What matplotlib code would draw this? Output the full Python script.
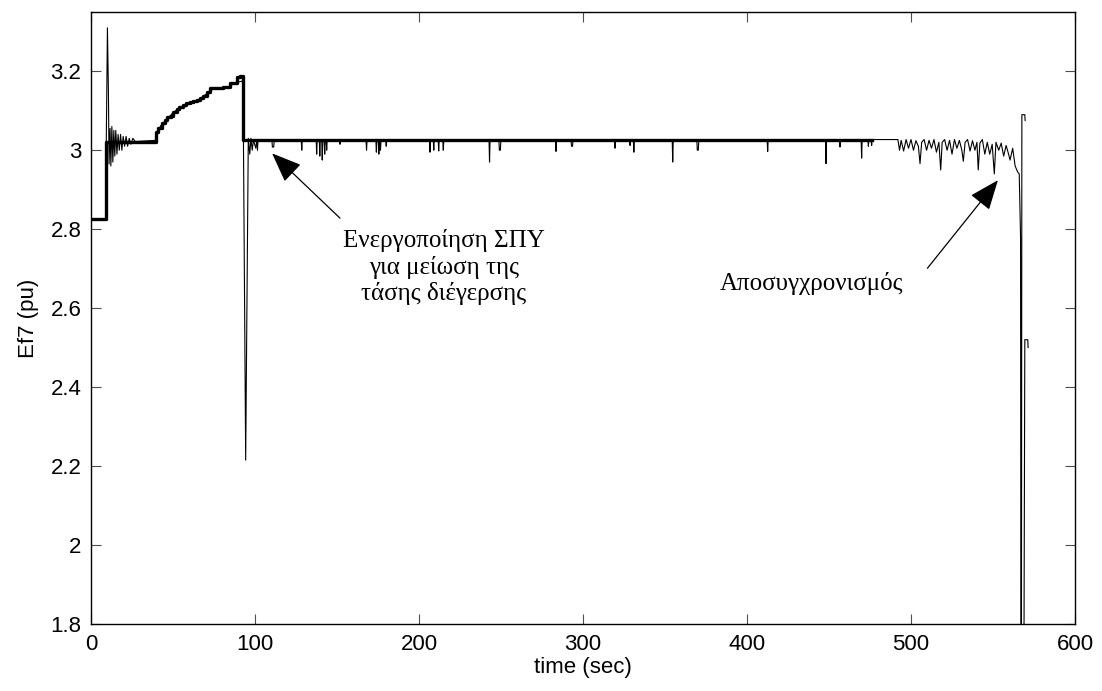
import matplotlib
matplotlib.use("Agg")
import matplotlib.pyplot as plt

plt.rcParams['font.family'] = ['Liberation Sans', 'DejaVu Sans']

# stepped excitation set-point (thick line), steps-post
ref_t = [0, 9.0, 39.6, 41.1, 43.1, 45.1, 46.5, 48.6, 50.2, 52.2, 53.9, 55.9,
         57.9, 60.4, 62.4, 64.8, 66.5, 68.5, 70.5, 72.6, 80.7, 84.8, 88.8,
         90.9, 92.5, 476.0]
ref_v = [2.825, 3.022, 3.046, 3.057, 3.069, 3.076, 3.083, 3.086, 3.097, 3.105,
         3.110, 3.115, 3.119, 3.122, 3.125, 3.127, 3.131, 3.137, 3.148, 3.158,
         3.160, 3.170, 3.186, 3.189, 3.025, 3.025]

# Ef7 response, start-up, ramp and the dip at ~94 s
start_t = [0, 9.0, 9.3, 10.0, 10.6, 11.0, 11.6, 12.1, 12.7, 13.3, 13.9, 14.5,
           15.1, 15.8, 16.5, 17.2, 18.0, 18.8, 19.6, 20.5, 21.4, 22.3, 23.3,
           24.3, 25.5, 27.0, 39.6, 40.5, 42.5, 46.5, 50.5, 54.5, 58.0, 62.5,
           66.5, 70.5, 73.0, 75.0, 80.5, 84.0, 85.5, 88.5, 92.5, 92.7, 94.3,
           95.9, 96.8, 97.5, 98.3, 99.0, 100.5, 101.0]
start_v = [2.825, 2.825, 3.02, 3.31, 3.15, 2.965, 3.055, 2.96, 3.06, 2.97,
           3.05, 2.985, 3.05, 2.99, 3.04, 3.0, 3.04, 3.0, 3.035, 3.01, 3.035,
           3.01, 3.03, 3.015, 3.03, 3.022, 3.025, 3.045, 3.062, 3.08, 3.097,
           3.108, 3.117, 3.124, 3.13, 3.143, 3.152, 3.155, 3.156, 3.158,
           3.165, 3.172, 3.175, 3.17, 2.215, 3.03, 2.99, 3.03, 3.0, 3.025,
           3.005, 3.025]

# flat section: short dips below the 3.025 level
mid_t = [101.0, 101.2, 101.5, 101.8, 110.3, 110.6, 111.4, 111.7, 128.2, 128.5,
         128.8, 137.3, 137.6, 137.9, 139.2, 139.5, 139.8, 140.7, 141.0, 141.3,
         142.2, 142.5, 142.8, 143.4, 143.7, 144.0, 151.5, 151.8, 152.1, 167.7,
         168.0, 168.3, 173.7, 174.0, 174.3, 175.2, 175.5, 175.8, 176.2, 176.5,
         176.8, 179.7, 180.0, 180.3, 206.4, 206.7, 207.0, 208.7, 209.0, 209.3,
         211.7, 212.0, 212.3, 214.5, 214.8, 215.1, 242.7, 243.0, 243.3, 248.7,
         249.0, 249.6, 249.9, 283.2, 283.5, 283.8, 292.7, 293.0, 293.6, 293.9,
         319.2, 319.5, 319.8, 328.4, 328.7, 329.0, 330.7, 331.0, 331.3, 354.4,
         354.7, 355.0, 369.4, 369.7, 370.3, 370.6, 412.3, 412.6, 412.9, 447.9,
         448.2, 448.5, 456.4, 456.7, 457.0, 469.6, 469.9, 470.2, 473.7, 474.0,
         474.3, 475.7, 476.0, 476.3]
mid_v = [3.025, 3.025, 3.0, 3.025, 3.025, 3.008, 3.008, 3.025, 3.025, 3.0,
         3.025, 3.025, 2.99, 3.025, 3.025, 2.985, 3.025, 3.025, 2.975, 3.025,
         3.025, 2.99, 3.025, 3.025, 3.0, 3.025, 3.025, 3.015, 3.025, 3.025,
         3.0, 3.025, 3.025, 2.995, 3.025, 3.025, 2.99, 3.025, 3.025, 3.0,
         3.025, 3.025, 3.01, 3.025, 3.025, 2.995, 3.025, 3.025, 3.0, 3.025,
         3.025, 2.998, 3.025, 3.025, 3.0, 3.025, 3.025, 2.97, 3.025, 3.025,
         3.0, 3.0, 3.025, 3.025, 2.997, 3.025, 3.025, 3.01, 3.01, 3.025,
         3.025, 3.005, 3.025, 3.025, 3.012, 3.025, 3.025, 2.995, 3.025, 3.025,
         2.97, 3.025, 3.025, 3.0, 3.0, 3.025, 3.025, 2.997, 3.025, 3.025,
         2.966, 3.025, 3.025, 3.008, 3.025, 3.025, 2.98, 3.025, 3.025, 3.01,
         3.025, 3.025, 3.012, 3.027]

# loss of synchronism: oscillations and collapse
end_t = [476.3, 490.0, 492.0, 493.0, 494.0, 495.5, 497.0, 498.5, 500.0, 501.5,
         503.0, 504.5, 505.5, 506.5, 508.0, 509.5, 511.0, 512.5, 514.0, 515.5,
         517.0, 518.1, 519.0, 520.5, 522.0, 523.5, 525.0, 526.5, 528.0, 529.5,
         531.0, 531.9, 533.0, 534.5, 536.0, 537.5, 539.0, 540.2, 541.0, 542.0,
         543.5, 545.0, 546.5, 548.0, 549.5, 550.8, 551.8, 553.5, 555.0, 556.5,
         558.0, 559.5, 560.4, 562.0, 563.5, 565.0, 566.0, 566.8, 567.2, 567.6,
         569.4, 569.6]
end_v = [3.027, 3.027, 3.027, 3.0, 3.025, 2.998, 3.027, 3.005, 3.027, 3.0,
         3.024, 3.01, 2.966, 3.02, 3.027, 3.0, 3.025, 3.005, 3.027, 2.995,
         3.02, 2.95, 3.02, 3.027, 3.0, 3.025, 2.99, 3.027, 3.005, 3.025,
         3.0, 2.972, 3.02, 3.027, 2.998, 3.024, 3.0, 3.02, 2.95, 3.018,
         3.027, 2.99, 3.02, 2.99, 3.015, 2.94, 3.02, 3.0, 3.018, 2.985,
         3.012, 2.99, 2.975, 3.005, 2.96, 2.945, 2.94, 2.78, 1.0, 3.09,
         3.09, 3.075]

# last sample trace after the collapse
tail_t = [568.4, 569.4, 571.2, 571.4]
tail_v = [1.0, 2.52, 2.52, 2.50]

fig = plt.figure(figsize=(11.02, 6.91), dpi=100)
ax = fig.add_axes([0.0826, 0.0970, 0.8929, 0.8856])

resp_t = start_t + mid_t[1:] + end_t[1:]
resp_v = start_v + mid_v[1:] + end_v[1:]
ax.plot(resp_t, resp_v, color='black', lw=0.8, zorder=2)
ax.plot(tail_t, tail_v, color='black', lw=0.8, zorder=2)
ax.plot(ref_t, ref_v, color='black', lw=2.4, drawstyle='steps-post', zorder=3)

ax.set_xlim(0, 600)
ax.set_ylim(1.8, 3.35)
ax.set_xticks([0, 100, 200, 300, 400, 500, 600])
ax.set_yticks([1.8, 2.0, 2.2, 2.4, 2.6, 2.8, 3.0, 3.2])
ax.set_yticklabels(['1.8', '2', '2.2', '2.4', '2.6', '2.8', '3', '3.2'])
ax.tick_params(direction='in', top=True, right=True, length=7, width=0.8,
               color='0.3', labelsize=16, pad=7)
for s in ax.spines.values():
    s.set_linewidth(1.0)

ax.set_xlabel('time (sec)', fontsize=16, labelpad=2)
ax.set_ylabel('Ef7 (pu)', fontsize=16, labelpad=8)

arrow = dict(arrowstyle='-|>,head_length=0.55,head_width=0.22',
             mutation_scale=34, color='black', lw=0.9, shrinkA=0, shrinkB=0)
ax.annotate('', xy=(110.4, 2.992), xytext=(151.8, 2.828), arrowprops=arrow)
ax.annotate('', xy=(553.0, 2.924), xytext=(510.0, 2.701), arrowprops=arrow)

ax.text(215.2, 2.704, 'Ενεργοποίηση ΣΠΥ\nγια μείωση της\nτάσης διέγερσης',
        family='Liberation Serif', fontsize=18, ha='center', va='center',
        linespacing=1.2)
ax.text(439.6, 2.663, 'Αποσυγχρονισμός', family='Liberation Serif',
        fontsize=18, ha='center', va='center')

fig.savefig('out.png', dpi=100)
